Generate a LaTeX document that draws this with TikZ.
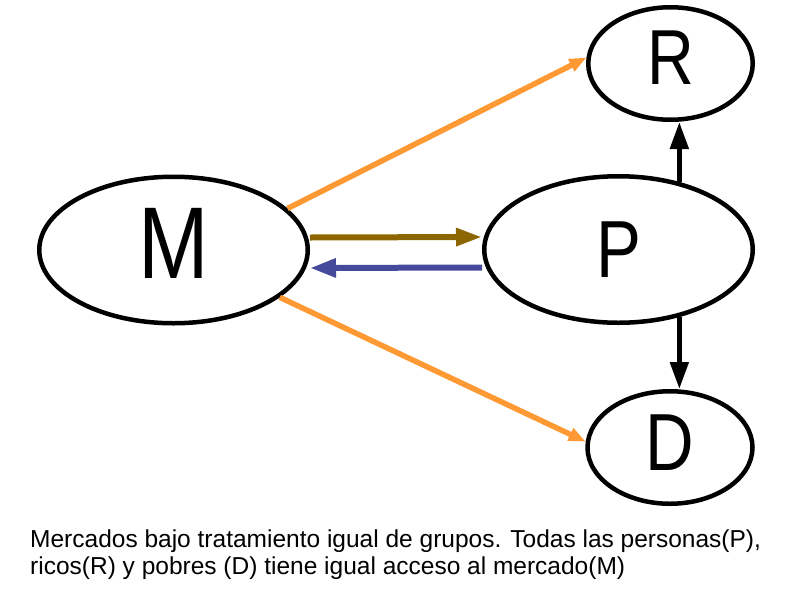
\documentclass[tikz,border=0pt]{standalone}
\usepackage{fontspec}
\setmainfont{Liberation Sans}
\usetikzlibrary{shapes.geometric,arrows.meta}
\definecolor{colNaranja}{RGB}{255,153,51}
\definecolor{colOliva}{RGB}{140,102,0}
\definecolor{colAzul}{RGB}{70,74,155}
\newcommand{\letra}[2]{\fontsize{#2}{#2}\selectfont\scalebox{0.83}[1]{#1}}

\begin{document}
\begin{tikzpicture}[x=1pt,y=-1pt,
    flechaNaranja/.style={draw=colNaranja,line width=5.5pt,-{Triangle[length=17pt,width=13pt]}},
    flechaOliva/.style={draw=colOliva,line width=6pt,-{Triangle[length=26pt,width=17pt]}},
    flechaAzul/.style={draw=colAzul,line width=6pt,-{Triangle[length=26pt,width=18pt]}},
    flechaNegra/.style={draw=black,line width=5pt,-{Triangle[length=27pt,width=18pt]}},
    texto/.style={anchor=base west,inner sep=0pt,font=\fontsize{24.5pt}{27pt}\selectfont}]
      \useasboundingbox (0,0) rectangle (800,600);
      \begin{scope}[every node/.style={ellipse,draw,line width=4.5pt,inner sep=0pt}]
        \node[minimum width=268.5pt,minimum height=146.5pt,text depth=14pt] (M) at (173.5,250) {\letra{M}{102pt}};
        \node[minimum width=268.5pt,minimum height=146.5pt] (P) at (618.5,249.5) {\letra{P}{81pt}};
        \node[minimum width=164.5pt,minimum height=112.5pt,text depth=12pt] (R) at (670.5,63.5) {\letra{R}{78pt}};
        \node[minimum width=165pt,minimum height=112.5pt,text depth=9pt] (D) at (670,447.5) {\letra{D}{81pt}};
      \end{scope}
      \path (M.20) edge[flechaNaranja] (R.176);
      \path (M.-24) edge[flechaNaranja] (D.176);
      \path ([yshift=12.5pt]M.east) edge[flechaOliva] ([yshift=12.5pt]P.west);
      \path ([yshift=-18pt]P.west) edge[flechaAzul] ([yshift=-18pt]M.east);
      \path (P.48) edge[flechaNegra] (P.48 |- R.south);
      \path (P.-48) edge[flechaNegra] (P.-48 |- D.north);
      \node[texto] (cap1) at (30,547) {Mercados bajo tratamiento igual de grupos. Todas las personas(P),};
      \node[texto] (cap2) at (30,574) {ricos(R) y pobres (D) tiene igual acceso al mercado(M)};
    \end{tikzpicture}
\end{document}
